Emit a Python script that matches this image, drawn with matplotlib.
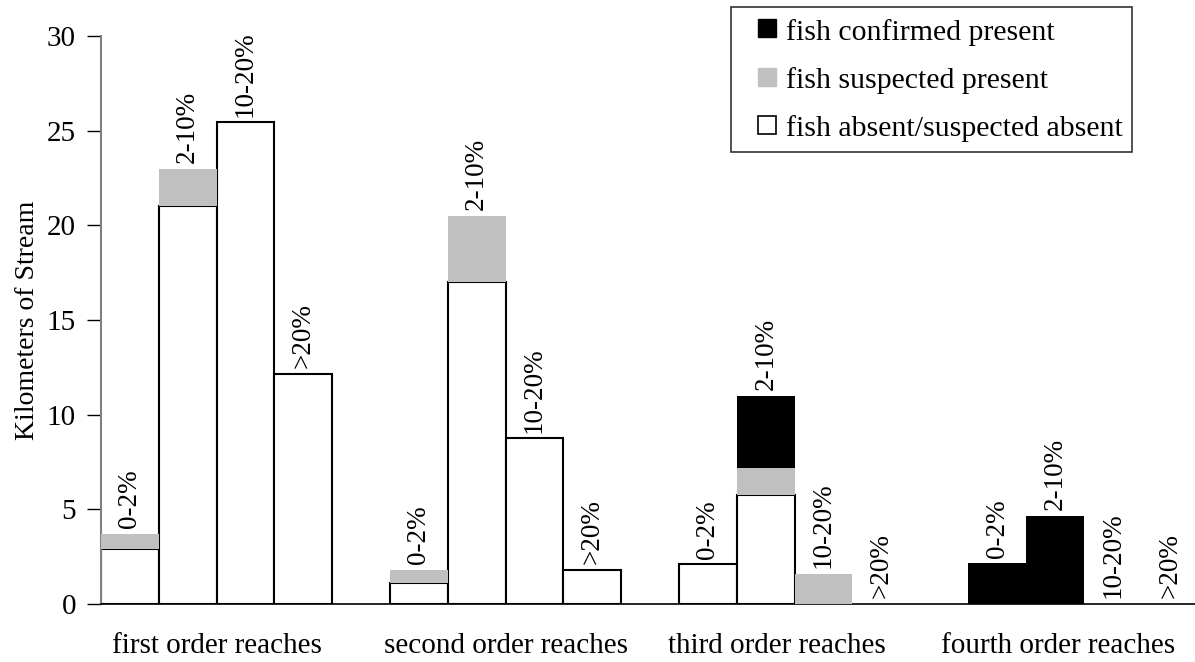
import matplotlib.pyplot as plt
import numpy as np
from matplotlib.lines import Line2D

# data (km of stream)
categories = ['first order reaches', 'second order reaches',
              'third order reaches', 'fourth order reaches']
gradients = ['0-2%', '2-10%', '10-20%', '>20%']

absent = [[2.9, 21.0, 25.45, 12.15],
          [1.1, 17.0, 8.75, 1.8],
          [2.1, 5.75, 0, 0],
          [0, 0, 0, 0]]
suspected = [[0.8, 2.0, 0, 0],
             [0.7, 3.5, 0, 0],
             [0, 1.45, 1.6, 0],
             [0, 0, 0, 0]]
confirmed = [[0, 0, 0, 0],
             [0, 0, 0, 0],
             [0, 3.8, 0, 0],
             [2.15, 4.65, 0, 0]]

series_names = ['fish confirmed present', 'fish suspected present',
                'fish absent/suspected absent']

# category labels sit a bit off the group centres in the original
label_pos = [0, 1.0, 1.94, 2.91]

plt.rcParams['font.family'] = ['Liberation Serif', 'DejaVu Serif']

fig = plt.figure(figsize=(11.95, 6.62), dpi=100)
ax = fig.add_axes([0.0845, 0.0876, 0.9155, 0.858])

width = 0.2
absent = np.array(absent)
suspected = np.array(suspected)
confirmed = np.array(confirmed)

for i in range(len(categories)):
    x = i + (np.arange(len(gradients)) - 1.5) * width
    a = absent[i]
    s = suspected[i]
    c = confirmed[i]
    lw = [1.5 if v > 0 else 0 for v in a]
    ax.bar(x, a, width, color='white', edgecolor='black', linewidth=lw,
           align='center', zorder=2)
    ax.bar(x, s, width, bottom=a, color='#c0c0c0', linewidth=0, zorder=3)
    ax.bar(x, c, width, bottom=a + s, color='black', linewidth=0, zorder=3)
    tops = a + s + c
    for xi, t, g in zip(x, tops, gradients):
        ax.annotate(g, (xi, t), xytext=(0, 4), textcoords='offset points',
                    rotation=90, ha='center', va='bottom', fontsize=19.5)

ax.set_ylim(0, 30)
ax.set_xlim(-0.4, 3.385)
ax.set_yticks([0, 5, 10, 15, 20, 25, 30])
ax.set_xticks(label_pos)
ax.set_xticklabels(categories)
ax.tick_params(axis='x', length=0, pad=21, labelsize=21)
ax.tick_params(axis='y', direction='out', length=10, width=1, pad=8,
               labelsize=21)
ax.set_ylabel('Kilometers of Stream', fontsize=20, labelpad=5)

ax.spines['top'].set_visible(False)
ax.spines['right'].set_visible(False)
ax.spines['left'].set_color('#808080')
ax.spines['left'].set_linewidth(1.5)
ax.spines['bottom'].set_linewidth(1.2)

handles = [Line2D([], [], ls='none', marker='s', markersize=13.5,
                  markerfacecolor='black', markeredgecolor='black'),
           Line2D([], [], ls='none', marker='s', markersize=13.5,
                  markerfacecolor='#c0c0c0', markeredgecolor='#c0c0c0'),
           Line2D([], [], ls='none', marker='s', markersize=13.5,
                  markerfacecolor='white', markeredgecolor='black',
                  markeredgewidth=1.2)]
leg = fig.legend(handles, series_names, loc='upper left',
                 bbox_to_anchor=(731 / 1195, 1 - 7 / 662),
                 fontsize=21.5, frameon=True, fancybox=False,
                 edgecolor='black', handlelength=1.74, handleheight=0.9,
                 handletextpad=-0.24, labelspacing=0.66, borderpad=0.33,
                 borderaxespad=0)
leg.get_frame().set_linewidth(1.2)

fig.savefig('out.png', dpi=100)
